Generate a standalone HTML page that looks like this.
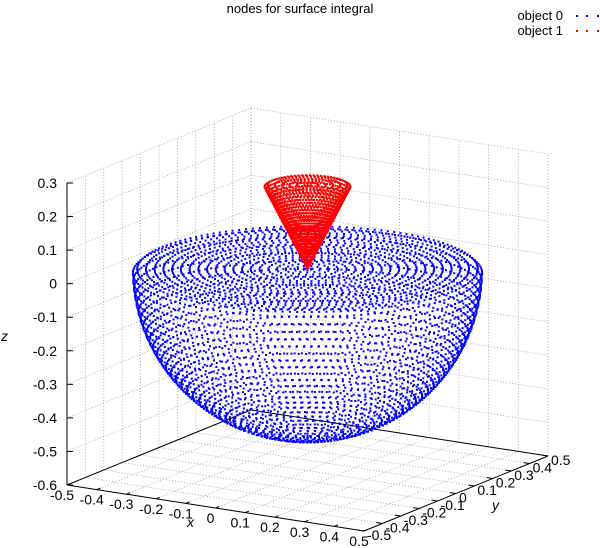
<!DOCTYPE html>
<html><head><meta charset="utf-8"><style>
html,body{margin:0;padding:0;background:#fff;}
svg{display:block;font-family:"Liberation Sans",sans-serif;}
</style></head><body>
<svg id="chart" width="600" height="548" viewBox="0 0 600 548" xmlns="http://www.w3.org/2000/svg">
<text x="300" y="13" font-size="13" text-anchor="middle">nodes for surface integral</text>
<g font-size="13">
<text x="563" y="20" text-anchor="end">object 0</text>
<text x="563" y="35" text-anchor="end">object 1</text>
<rect x="576" y="15" width="2" height="2" fill="#0000ff"/>
<rect x="586" y="15" width="2" height="2" fill="#0000ff"/>
<rect x="597" y="15" width="2" height="2" fill="#0000ff"/>
<rect x="576" y="30" width="2" height="2" fill="#ff0000"/>
<rect x="586" y="30" width="2" height="2" fill="#ff0000"/>
<rect x="597" y="30" width="2" height="2" fill="#ff0000"/>
</g>
<g id="grid"></g>
<g id="axes"></g>
<g id="pts0"></g>
<g id="pts1"></g>
<text x="187" y="527" font-size="14" font-style="italic">x</text>
<text x="492" y="510" font-size="14" font-style="italic">y</text>
<text x="1" y="341" font-size="14" font-style="italic">z</text>
</svg>
<script>
const xTicks = [-0.5,-0.4,-0.3,-0.2,-0.1,0,0.1,0.2,0.3,0.4,0.5];
const yTicks = [-0.5,-0.4,-0.3,-0.2,-0.1,0,0.1,0.2,0.3,0.4,0.5];
const zTicks = [-0.6,-0.5,-0.4,-0.3,-0.2,-0.1,0,0.1,0.2,0.3];
const xTickLabels = ["-0.5","-0.4","-0.3","-0.2","-0.1","0","0.1","0.2","0.3","0.4","0.5"];
const yTickLabels = ["-0.5","-0.4","-0.3","-0.2","-0.1","0","0.1","0.2","0.3","0.4","0.5"];
const zTickLabels = ["-0.6","-0.5","-0.4","-0.3","-0.2","-0.1","0","0.1","0.2","0.3"];
const sphereRadius = [0.5];
const coneHeight = [0.25];
const coneRadius = [0.125];
const bowlRingCount = [34];
const bowlEquatorPoints = [150];
const diskRingCount = [20];
const diskOuterPoints = [150];
const coneRingCount = [28];
const coneSpokes = [72];
const coneTopRings = [6];

const NS="http://www.w3.org/2000/svg";
const xmin=-0.5,xmax=0.5,ymin=-0.5,ymax=0.5,zmin=-0.6,zmax=0.3;
function P(x,y,z){
  const u=(x-xmin)/(xmax-xmin), v=(y-ymin)/(ymax-ymin), w=(z-zmin)/(zmax-zmin);
  return [67+u*297+v*184, 485+u*46-v*75-w*302];
}
function line(g,a,b,name,style){
  const l=document.createElementNS(NS,'line');
  l.setAttribute('x1',a[0]);l.setAttribute('y1',a[1]);l.setAttribute('x2',b[0]);l.setAttribute('y2',b[1]);
  
  
  if(style==='grid'){l.setAttribute('stroke','#a0a0a0');l.setAttribute('stroke-width','0.8');l.setAttribute('stroke-dasharray','1,2');}
  else{l.setAttribute('stroke','#000');l.setAttribute('stroke-width','1');}
  g.appendChild(l);
}
function text(g,x,y,s,anchor,name){
  const t=document.createElementNS(NS,'text');
  t.setAttribute('x',x);t.setAttribute('y',y);t.setAttribute('font-size','14');
  t.setAttribute('text-anchor',anchor);t.textContent=s;
  
  
  g.appendChild(t);
}
const grid=document.getElementById('grid'), axes=document.getElementById('axes');
xTicks.forEach(x=>line(grid,P(x,ymin,zmin),P(x,ymax,zmin),'base-grid-line','grid'));
yTicks.forEach(y=>line(grid,P(xmin,y,zmin),P(xmax,y,zmin),'base-grid-line','grid'));
yTicks.forEach(y=>line(grid,P(xmin,y,zmin),P(xmin,y,zmax),'wall-grid-line','grid'));
xTicks.forEach(x=>line(grid,P(x,ymax,zmin),P(x,ymax,zmax),'wall-grid-line','grid'));
zTicks.forEach(z=>{line(grid,P(xmin,ymin,z),P(xmin,ymax,z),'wall-grid-line','grid');line(grid,P(xmin,ymax,z),P(xmax,ymax,z),'wall-grid-line','grid');});
line(axes,P(xmin,ymin,zmin),P(xmax,ymin,zmin),'x-axis-line');
line(axes,P(xmax,ymin,zmin),P(xmax,ymax,zmin),'y-axis-line');
line(axes,P(xmin,ymin,zmin),P(xmin,ymax,zmin),'base-border');
line(axes,P(xmin,ymax,zmin),P(xmax,ymax,zmin),'base-border');
line(axes,P(xmin,ymin,zmin),P(xmin,ymin,zmax),'z-axis-line');
xTicks.forEach((x,i)=>{const a=P(x,ymin,zmin);line(axes,a,P(x,ymin+0.02,zmin),'x-tick');text(axes,a[0]-5,a[1]+15,xTickLabels[i],'middle','x-tick-label');});
yTicks.forEach((y,i)=>{const a=P(xmax,y,zmin);line(axes,a,P(xmax-0.02,y,zmin),'y-tick');text(axes,a[0]+3,a[1]+9,yTickLabels[i],'start','y-tick-label');});
zTicks.forEach((z,i)=>{const a=P(xmin,ymin,z);line(axes,a,[a[0]+6,a[1]],'z-tick');text(axes,a[0]-10,a[1]+5,zTickLabels[i],'end','z-tick-label');});
function dot(g,x,y,z,color,name){
  const p=P(x,y,z);
  const r=document.createElementNS(NS,'rect');
  r.setAttribute('x',(p[0]-1).toFixed(1));r.setAttribute('y',(p[1]-1).toFixed(1));
  r.setAttribute('width','2');r.setAttribute('height','2');r.setAttribute('fill',color);
  
  
  g.appendChild(r);
}
const g0=document.getElementById('pts0'), g1=document.getElementById('pts1');
const R=sphereRadius[0];
for(let i=0;i<bowlRingCount[0];i++){
  const th=(i+0.5)/bowlRingCount[0]*Math.PI/2;
  const n=Math.max(6,Math.round(bowlEquatorPoints[0]*Math.sin(th)));
  for(let j=0;j<n;j++){
    const ph=(j+0.37*i)/n*2*Math.PI;
    dot(g0,R*Math.sin(th)*Math.cos(ph),R*Math.sin(th)*Math.sin(ph),-R*Math.cos(th),'#0000ff','object-0-point');
  }
}
for(let i=0;i<diskRingCount[0];i++){
  const f=(i+0.5)/diskRingCount[0];
  const rr=R*f;
  const n=Math.max(6,Math.round(diskOuterPoints[0]*f));
  for(let j=0;j<n;j++){
    const ph=j/n*2*Math.PI+0.12*i;
    dot(g0,rr*Math.cos(ph),rr*Math.sin(ph),0,'#0000ff','object-0-point');
  }
}
const H=coneHeight[0], CR=coneRadius[0];
for(let i=0;i<coneRingCount[0];i++){
  const t=(i+0.5)/coneRingCount[0];
  for(let j=0;j<coneSpokes[0];j++){
    const ph=(j+0.5*(i%2))/coneSpokes[0]*2*Math.PI;
    dot(g1,CR*t*Math.cos(ph),CR*t*Math.sin(ph),H*t,'#ff0000','object-1-point');
  }
}
for(let i=0;i<coneTopRings[0];i++){
  const f=(i+0.5)/coneTopRings[0];
  const rr=CR*f;
  const n=Math.max(6,Math.round(coneSpokes[0]*f));
  for(let j=0;j<n;j++){
    const ph=j/n*2*Math.PI+0.3*i;
    dot(g1,rr*Math.cos(ph),rr*Math.sin(ph),H,'#ff0000','object-1-point');
  }
}
</script>
</body></html>
